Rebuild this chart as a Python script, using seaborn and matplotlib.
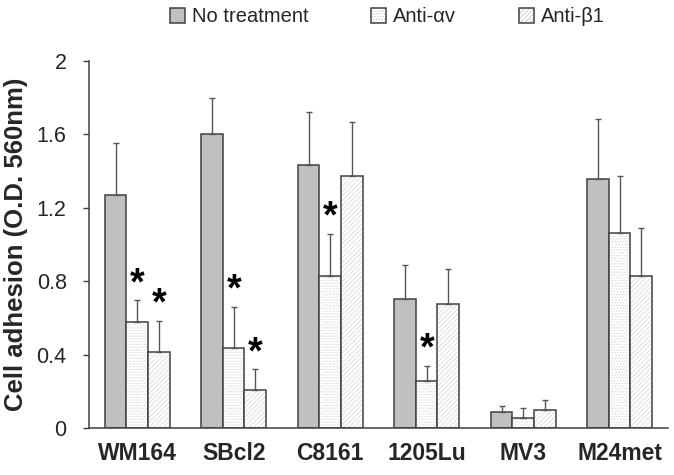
import matplotlib
matplotlib.use("Agg")
import matplotlib.pyplot as plt
import pandas as pd
import seaborn as sns

cell_lines = ["WM164", "SBcl2", "C8161", "1205Lu", "MV3", "M24met"]
treatments = ["No treatment", "Anti-\u03b1v", "Anti-\u03b21"]

no_treatment = [1.27, 1.60, 1.43, 0.70, 0.085, 1.355]
anti_av = [0.578, 0.438, 0.827, 0.256, 0.054, 1.061]
anti_b1 = [0.416, 0.205, 1.37, 0.676, 0.10, 0.827]

no_treatment_err = [0.283, 0.20, 0.29, 0.19, 0.035, 0.327]
anti_av_err = [0.118, 0.223, 0.229, 0.082, 0.053, 0.311]
anti_b1_err = [0.167, 0.115, 0.296, 0.192, 0.054, 0.263]

# significance marks: (cell line, treatment)
stars = [("WM164", "Anti-\u03b1v"), ("WM164", "Anti-\u03b21"),
         ("SBcl2", "Anti-\u03b1v"), ("SBcl2", "Anti-\u03b21"),
         ("C8161", "Anti-\u03b1v"), ("1205Lu", "Anti-\u03b1v")]

values = [no_treatment, anti_av, anti_b1]
errors = [no_treatment_err, anti_av_err, anti_b1_err]
df = pd.DataFrame(
    [
        {"line": c, "treatment": t, "value": values[j][i], "err": errors[j][i]}
        for j, t in enumerate(treatments)
        for i, c in enumerate(cell_lines)
    ]
)

sns.set_style("white")
plt.rcParams["font.family"] = ["Liberation Sans", "DejaVu Sans"]
plt.rcParams["hatch.linewidth"] = 0.5

fig = plt.figure(figsize=(6.74, 4.75), dpi=100)
ax = fig.add_axes([0.132, 0.099, 0.859, 0.773])

palette = {treatments[0]: "#c0c0c0", treatments[1]: "white", treatments[2]: "white"}
sns.barplot(data=df, x="line", y="value", hue="treatment", order=cell_lines,
            hue_order=treatments, palette=palette, width=0.67, gap=0,
            errorbar=None, edgecolor="#404040", linewidth=1.1, saturation=1,
            ax=ax)

hatches = [None, "......", "///////"]
hatch_col = matplotlib.colors.to_rgba("#d4d4d4")
bar_groups = list(ax.containers)
for j, cont in enumerate(bar_groups):
    t = treatments[j]
    sub = df[df.treatment == t].set_index("line").loc[cell_lines]
    for i, bar in enumerate(cont):
        if hatches[j]:
            bar.set_hatch(hatches[j])
            bar._hatch_color = hatch_col
        xc = bar.get_x() + bar.get_width() / 2
        top = bar.get_height()
        err = sub["err"].iloc[i]
        ax.errorbar(xc, top, yerr=[[0], [err]], fmt="none", ecolor="#555555",
                    elinewidth=1.0, capsize=2.5, capthick=1.0, zorder=1)
        if (cell_lines[i], t) in stars:
            ax.text(xc, top + err - 0.01, "*", ha="center", va="bottom",
                    fontsize=27, fontweight="bold", color="black")

ax.set_ylim(0, 2)
ax.set_xlim(-0.5, 5.5)
ax.set_yticks([0, 0.4, 0.8, 1.2, 1.6, 2])
ax.set_yticklabels(["0", "0.4", "0.8", "1.2", "1.6", "2"], fontsize=15.5)
ax.set_xticks(range(len(cell_lines)))
ax.set_xticklabels(cell_lines, fontsize=16.5, fontweight="bold")
ax.set_xticks([0.5, 1.5, 2.5, 3.5, 4.5], minor=True)
ax.tick_params(axis="x", which="major", length=0, pad=10)
ax.tick_params(axis="x", which="minor", direction="in", length=4, width=1, color="#404040")
ax.tick_params(axis="y", which="major", direction="out", length=4, width=1,
               color="#404040", left=True, pad=12)
ax.set_xlabel("")
ax.set_ylabel("Cell adhesion (O.D. 560nm)", fontsize=18.5, fontweight="bold", labelpad=6)
for s in ["top", "right"]:
    ax.spines[s].set_visible(False)
for s in ["left", "bottom"]:
    ax.spines[s].set_color("#404040")
    ax.spines[s].set_linewidth(1.1)

handles, labels = ax.get_legend_handles_labels()
for h, hp in zip(handles, hatches):
    if hp:
        h.set_hatch(hp)
        h._hatch_color = matplotlib.colors.to_rgba("#c0c0c0")
ax.legend(handles, labels, loc="center", bbox_to_anchor=(0.515, 1.12), ncol=3,
          frameon=False, fontsize=14.5, handlelength=0.75, handleheight=0.75,
          handletextpad=0.35, columnspacing=3.1)

fig.savefig("out.png", dpi=100)
